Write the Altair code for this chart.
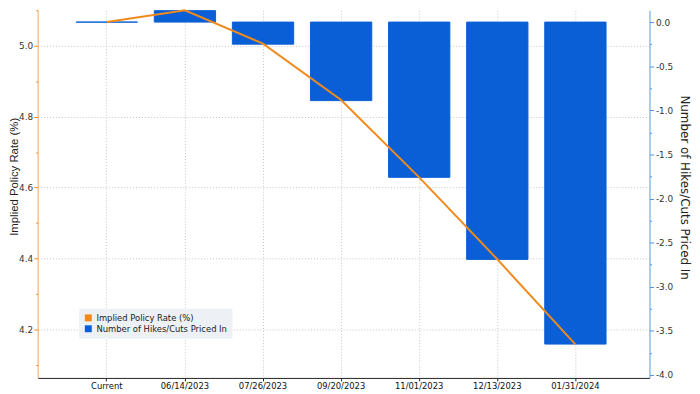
import altair as alt
import pandas as pd

dates = ["Current", "06/14/2023", "07/26/2023", "09/20/2023",
         "11/01/2023", "12/13/2023", "01/31/2024"]
implied_rate = [5.067, 5.100, 5.006, 4.847, 4.629, 4.398, 4.158]
hikes_cuts = [0.0, 0.13, -0.25, -0.89, -1.76, -2.69, -3.65]
series_names = ["Implied Policy Rate (%)", "Number of Hikes/Cuts Priced In"]
left_ticks = [4.1, 4.2, 4.3, 4.4, 4.5, 4.6, 4.7, 4.8, 4.9, 5.0, 5.1]
right_ticks = [-4.0, -3.75, -3.5, -3.25, -3.0, -2.75, -2.5, -2.25, -2.0,
               -1.75, -1.5, -1.25, -1.0, -0.75, -0.5, -0.25, 0.0]

df = pd.DataFrame({
    "date": dates,
    "rate": implied_rate,
    "hikes": hikes_cuts,
    "series": [series_names[1]] * len(dates),
})

ORANGE = "#f08a1c"
BLUE = "#0b5fd6"

x_enc = alt.X(
    "date:N", sort=dates,
    scale=alt.Scale(type="band", paddingInner=0.215, paddingOuter=0.525, align=0.47),
    axis=alt.Axis(
        title=None, labelAngle=0, domainColor="#222222", tickColor="#222222",
        tickSize=3, labelFont="DejaVu Sans", labelFontSize=8.5, labelColor="#111111",
        labelPadding=1, grid=True, gridDash=[1, 2], gridColor="#c4c4c4",
        bandPosition=0.5,
    ),
)

left_major = "abs(round(datum.value*10)) % 2 == 0"
right_major = "abs(round(datum.value*4)) % 2 == 0"

bars = alt.Chart(df).mark_bar(stroke=BLUE, strokeWidth=1).encode(
    x=x_enc,
    y=alt.Y(
        "hikes:Q",
        scale=alt.Scale(domain=[-4.0336, 0.1345], nice=False, zero=False),
        axis=alt.Axis(
            orient="right", title="Number of Hikes/Cuts Priced In",
            values=right_ticks,
            labelExpr=right_major + " ? replace(format(datum.value, '.1f'), '\u2212', '-') : ''",
            labelFont="DejaVu Sans", labelFontSize=9, labelColor="#333333",
            labelPadding=2,
            tickSize={"condition": {"test": right_major, "value": 4}, "value": 2},
            tickColor="#4a8fe0", domainColor="#5b9be0", grid=False,
            titleFont="DejaVu Sans", titleFontSize=12, titleFontWeight="normal",
            titleColor="#222222", titleAngle=90, titleBaseline="alphabetic",
            titleX=31, titleY=179,
        ),
    ),
    color=alt.Color(
        "series:N",
        scale=alt.Scale(domain=series_names, range=[ORANGE, BLUE]),
        legend=alt.Legend(
            title=None, orient="none", legendX=42, legendY=302,
            fillColor="#edf0f4", padding=5, symbolType="square", symbolSize=49,
            symbolStrokeWidth=0, labelFont="DejaVu Sans", labelFontSize=8.5,
            labelColor="#222222", rowPadding=2, labelOffset=4,
        ),
    ),
)

line = alt.Chart(df).mark_line(color=ORANGE, strokeWidth=2).encode(
    x=x_enc,
    y=alt.Y(
        "rate:Q",
        scale=alt.Scale(domain=[4.0634, 5.1003], nice=False, zero=False),
        axis=alt.Axis(
            orient="left", title="Implied Policy Rate (%)",
            values=left_ticks,
            labelExpr=left_major + " ? format(datum.value, '.1f') : ''",
            labelFont="DejaVu Sans", labelFontSize=9, labelColor="#333333",
            labelPadding=1,
            tickSize={"condition": {"test": left_major, "value": 4}, "value": 2},
            tickColor=ORANGE, domainColor="#f2a65a",
            grid=True, gridDash=[1, 2], gridColor="#c4c4c4",
            gridOpacity={"condition": {"test": left_major, "value": 1}, "value": 0},
            titleFont="Liberation Sans", titleFontSize=11.5, titleFontWeight="normal",
            titleColor="#222222", titleAngle=270, titleBaseline="alphabetic",
            titleX=-20.5, titleY=168,
        ),
    ),
)

chart = alt.layer(bars, line).resolve_scale(y="independent").properties(
    width=619, height=372,
    padding={"left": 30, "top": 0, "right": 43, "bottom": 14},
    autosize=alt.AutoSizeParams(type="none"),
).configure_view(strokeWidth=0)

chart.save("out.html", embed_options={"renderer": "svg", "actions": False})
